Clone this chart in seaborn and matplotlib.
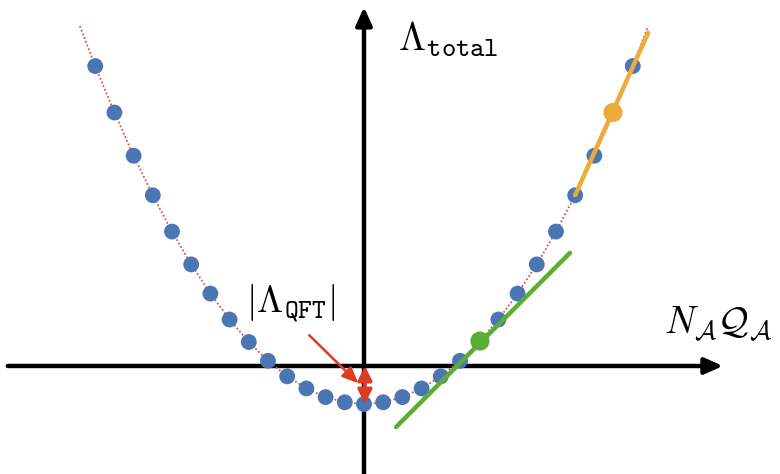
import numpy as np
import pandas as pd
import matplotlib
matplotlib.use("Agg")
import matplotlib.pyplot as plt
import seaborn as sns

# data (x in dot-index units, y in same scale)
dot_x = [-14, -13, -12, -11, -10, -9, -8, -7, -6, -5, -4, -3, -2, -1, 0,
         1, 2, 3, 4, 5, 6, 7, 8, 9, 10, 11, 12, 13, 14]
dot_y = [15.62, 13.20, 10.95, 8.89, 7.00, 5.29, 3.77, 2.42, 1.25, 0.27, -0.54, -1.17, -1.62, -1.89, -1.98,
         -1.89, -1.62, -1.17, -0.54, 0.27, 1.25, 2.42, 3.77, 5.29, 7.00, 8.89, 10.95, 13.20, 15.62]
curve_end_x = [-14.8, 14.8]
curve_end_y = [17.7, 17.7]

orange_x = [11.0, 14.8]
orange_y = [8.9, 17.35]
orange_pt = (12.97, 13.2)

green_x = [1.67, 10.73]
green_y = [-3.18, 5.89]
green_pt = (6.04, 1.3)

gap_top = 0.0
gap_bottom = -1.98

sns.set_theme(style="white")
plt.rcParams["mathtext.fontset"] = "cm"

fig = plt.figure(figsize=(7.8, 4.74), dpi=100)
ax = fig.add_axes([0, 0, 1, 1])
ax.set_xlim(-18.96, 21.67)
ax.set_ylim(-5.625, 19.06)
ax.axis("off")

# axes arrows
ax.annotate("", xy=(18.7, 0), xytext=(-18.55, 0),
            arrowprops=dict(arrowstyle="-|>,head_length=0.9,head_width=0.4", color="black", lw=3.2,
                            shrinkA=0, shrinkB=0), zorder=1)
ax.annotate("", xy=(0, 18.7), xytext=(0, -5.7),
            arrowprops=dict(arrowstyle="-|>,head_length=0.9,head_width=0.4", color="black", lw=3.2,
                            shrinkA=0, shrinkB=0), zorder=1)

# dotted curve
cx = [curve_end_x[0]] + dot_x + [curve_end_x[1]]
cy = [curve_end_y[0]] + dot_y + [curve_end_y[1]]
curve_df = pd.DataFrame({"x": cx, "y": cy})
sns.lineplot(data=curve_df, x="x", y="y", ax=ax, sort=False, color="#cf5b55",
             linestyle=(0, (1, 1.2)), lw=1.3, zorder=2)

dots = pd.DataFrame({"x": dot_x, "y": dot_y})
sns.scatterplot(data=dots, x="x", y="y", ax=ax, s=130, color="#4a77b4", edgecolor="none", zorder=3)

# tangent lines
sns.lineplot(x=orange_x, y=orange_y, ax=ax, color="#eeaa3a", lw=3.2, zorder=4)
ax.scatter([orange_pt[0]], [orange_pt[1]], s=190, color="#eeaa3a", zorder=5, edgecolor="none")
sns.lineplot(x=green_x, y=green_y, ax=ax, color="#5aae32", lw=3.2, zorder=4)
ax.scatter([green_pt[0]], [green_pt[1]], s=190, color="#5aae32", zorder=5, edgecolor="none")

# red arrows
red = "#dd3b22"
ax.annotate("", xy=(-0.3, -0.9), xytext=(-2.85, 1.6),
            arrowprops=dict(arrowstyle="-|>,head_length=0.8,head_width=0.35", color=red, lw=1.8,
                            shrinkA=0, shrinkB=0), zorder=6)
ax.annotate("", xy=(0.05, gap_bottom), xytext=(0.05, gap_top),
            arrowprops=dict(arrowstyle="<|-|>,head_length=0.7,head_width=0.35", color=red, lw=2.6,
                            shrinkA=0, shrinkB=0), zorder=6)

# labels
ax.text(1.75, 17.0, r"$\Lambda_{\mathtt{total}}$", fontsize=28, ha="left", va="center", color="black")
ax.text(-3.8, 3.3, r"$|\Lambda_{\mathtt{QFT}}|$", fontsize=27, ha="center", va="center", color="black")
ax.text(18.45, 2.2, r"$N_{\mathcal{A}}\mathcal{Q}_{\mathcal{A}}$", fontsize=27, ha="center", va="center",
        color="black")

fig.savefig("out.png", dpi=100)
